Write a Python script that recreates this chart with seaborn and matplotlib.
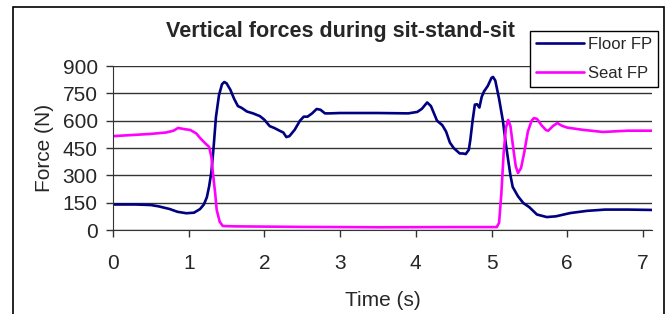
import matplotlib
matplotlib.use("Agg")
import matplotlib.pyplot as plt
import matplotlib.patches as mpatches
import pandas as pd
import seaborn as sns

# values
floor_t = [0, 0.3, 0.5, 0.6, 0.75, 0.85, 0.97, 1.07, 1.15, 1.2,
           1.24, 1.27, 1.3, 1.33, 1.36, 1.4, 1.44, 1.47, 1.5, 1.55,
           1.6, 1.65, 1.7, 1.77, 1.85, 1.94, 2.0, 2.07, 2.13, 2.2,
           2.25, 2.29, 2.33, 2.4, 2.47, 2.52, 2.57, 2.63, 2.69, 2.74,
           2.8, 2.86, 3.0, 3.5, 3.9, 4.02, 4.08, 4.15, 4.2, 4.28,
           4.35, 4.4, 4.45, 4.5, 4.58, 4.62, 4.66, 4.7, 4.72, 4.75,
           4.78, 4.81, 4.84, 4.87, 4.9, 4.95, 5.0, 5.02, 5.05, 5.1,
           5.15, 5.19, 5.22, 5.25, 5.28, 5.35, 5.42, 5.5, 5.6, 5.73,
           5.85, 6.04, 6.26, 6.5, 6.8, 7.12]
floor_f = [140, 140, 137, 130, 115, 100, 92, 95, 115, 140,
           180, 240, 320, 460, 620, 740, 800, 812, 805, 770,
           720, 680, 670, 650, 640, 625, 605, 570, 560, 545,
           535, 510, 515, 550, 600, 622, 622, 640, 664, 660,
           640, 640, 642, 642, 640, 648, 665, 700, 680, 600,
           575, 540, 480, 450, 420, 420, 417, 440, 494, 600,
           688, 690, 672, 730, 760, 790, 835, 840, 820, 720,
           600, 470, 384, 300, 236, 185, 148, 125, 85, 71,
           75, 93, 105, 112, 112, 110]

seat_t = [0, 0.2, 0.49, 0.7, 0.8, 0.86, 0.95, 1.02, 1.1, 1.15,
          1.22, 1.27, 1.3, 1.32, 1.35, 1.37, 1.41, 1.45, 1.6, 2.5,
          3.5, 4.5, 5.07, 5.1, 5.13, 5.16, 5.19, 5.22, 5.25, 5.29,
          5.32, 5.35, 5.39, 5.43, 5.48, 5.53, 5.56, 5.6, 5.66, 5.72,
          5.75, 5.81, 5.87, 5.93, 6.0, 6.2, 6.47, 6.8, 7.12]
seat_f = [515, 520, 527, 535, 545, 560, 553, 549, 530, 505,
          475, 456, 400, 313, 200, 110, 45, 22, 20, 17,
          15, 16, 16, 40, 200, 420, 560, 604, 570, 440,
          350, 313, 340, 420, 540, 600, 614, 610, 575, 548,
          545, 570, 587, 572, 562, 550, 538, 545, 545]

y_ticks = [0, 150, 300, 450, 600, 750, 900]
x_ticks = [0, 1, 2, 3, 4, 5, 6, 7]

floor = pd.DataFrame({"t": floor_t, "f": floor_f})
seat = pd.DataFrame({"t": seat_t, "f": seat_f})

sns.set_style("white")
plt.rcParams['font.family'] = ['Liberation Sans', 'DejaVu Sans']

fig = plt.figure(figsize=(6.68, 3.14), dpi=100)
ax = fig.add_axes([113/668, 1-230/314, (652-113)/668, (230-66)/314])

sns.lineplot(data=floor, x="t", y="f", color="#000080", lw=1.9,
             label="Floor FP", ax=ax, estimator=None)
sns.lineplot(data=seat, x="t", y="f", color="#ff00ff", lw=1.9,
             label="Seat FP", ax=ax, estimator=None)

ax.set_xlim(0, 7.12)
ax.set_ylim(0, 900)
ax.set_xticks(x_ticks)
ax.set_yticks(y_ticks)
ax.yaxis.grid(True, color="0.2", lw=1)
ax.xaxis.grid(False)
ax.set_axisbelow(True)
for s in ["top", "right"]:
    ax.spines[s].set_visible(False)
ax.spines["left"].set_color("0.2")
ax.spines["bottom"].set_color("0.2")
ax.tick_params(axis="both", direction="out", length=5, width=1,
               color="0.2", labelsize=15, bottom=True, left=True)
ax.tick_params(axis="x", pad=12)
ax.tick_params(axis="y", pad=6)

ax.set_xlabel("Time (s)", fontsize=15, labelpad=13)
ax.set_ylabel("Force (N)", fontsize=15, labelpad=6)

fig.text(340/668, 1-32/314, "Vertical forces during sit-stand-sit",
         ha="center", va="center", fontsize=15.5, fontweight="bold")

leg = ax.legend(loc="upper right", bbox_to_anchor=(658/668, 1-31/314),
                bbox_transform=fig.transFigure, frameon=True,
                fancybox=False, framealpha=1, edgecolor="black",
                fontsize=12, handlelength=2.9, handletextpad=0.25,
                labelspacing=0.85, borderpad=0.35, borderaxespad=0)
leg.get_frame().set_linewidth(1)

border = mpatches.Rectangle((13/668, -0.05), (664-13)/668, 1-7/314+0.05,
                            transform=fig.transFigure, fill=False,
                            edgecolor="black", lw=1.2)
fig.patches.append(border)

fig.savefig("out.png", dpi=100)
